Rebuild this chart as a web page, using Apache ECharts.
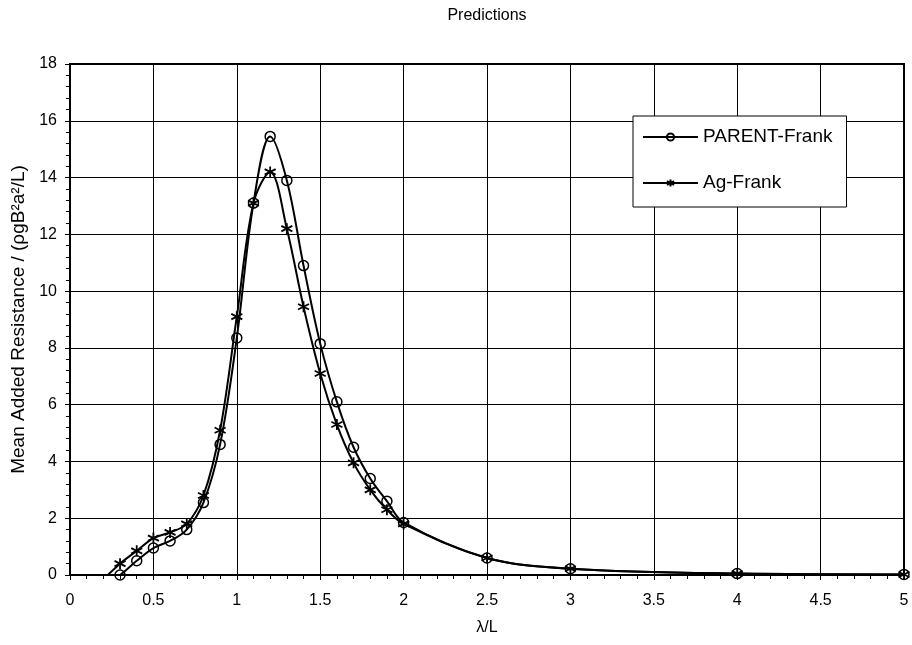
<!DOCTYPE html>
<html><head><meta charset="utf-8">
<script src="https://cdn.jsdelivr.net/npm/echarts@6/dist/echarts.min.js"></script>
<style>html,body{margin:0;padding:0;background:#fff}#c{width:912px;height:645px}</style>
</head><body><div id="c"></div>
<script>
var xValues = [0.2, 0.3, 0.4, 0.5, 0.6, 0.7, 0.8, 0.9, 1.0, 1.1, 1.2, 1.3, 1.4, 1.5, 1.6, 1.7, 1.8, 1.9, 2.0, 2.5, 3, 4, 5];
var parentFrank = [-0.4, 0.0, 0.5, 0.95, 1.2, 1.6, 2.55, 4.6, 8.35, 13.1, 15.45, 13.9, 10.9, 8.15, 6.1, 4.5, 3.4, 2.6, 1.85, 0.6, 0.22, 0.05, 0.02];
var agFrank = [-0.15, 0.4, 0.85, 1.3, 1.5, 1.8, 2.8, 5.1, 9.1, 13.1, 14.2, 12.2, 9.45, 7.1, 5.3, 3.95, 3.0, 2.3, 1.8, 0.6, 0.22, 0.05, 0.02];
var seriesNames = ['PARENT-Frank', 'Ag-Frank'];
var titleText = 'Predictions';

function pairs(ys){ return xValues.map(function(x,i){ return [x, ys[i]]; }); }
var FONT = 'Liberation Sans, Arial, sans-serif';
var star = 'path://M5,0 L5,10 M0.7,2.5 L9.3,7.5 M0.7,7.5 L9.3,2.5';

var chart = echarts.init(document.getElementById('c'), null, {renderer:'canvas'});
chart.setOption({
  animation: false,
  backgroundColor: '#fff',
  graphic: [{ type: 'text', x: 487, y: 16,
    style: { text: titleText, textAlign: 'center', textVerticalAlign: 'middle',
      font: '16px ' + FONT, fill: '#000' } }],
  grid: { left: 70, right: 8, top: 64, bottom: 70, show: true, borderColor: '#000', borderWidth: 2 },
  legend: {
    orient: 'vertical', left: 633, top: 116,
    padding: [11, 14, 14, 9], itemGap: 26, itemWidth: 55, itemHeight: 9,
    borderColor: '#000', borderWidth: 1, backgroundColor: '#fff',
    textStyle: { fontFamily: FONT, fontSize: 19, lineHeight: 20, color: '#000' },
    data: seriesNames
  },
  xAxis: {
    type: 'value', min: 0, max: 5, interval: 0.5,
    name: 'λ/L', nameLocation: 'middle', nameGap: 45,
    nameTextStyle: { fontFamily: FONT, fontSize: 16, color: '#000' },
    axisLine: { onZero: false, lineStyle: { color: '#000', width: 2 } },
    axisTick: { show: true, length: 5, lineStyle: { color: '#000' } },
    minorTick: { show: true, splitNumber: 5, length: 4, lineStyle: { color: '#000' } },
    axisLabel: { fontFamily: FONT, fontSize: 16, color: '#000', margin: 18 },
    splitLine: { show: true, lineStyle: { color: '#000', width: 1 } }
  },
  yAxis: {
    type: 'value', min: 0, max: 18, interval: 2,
    name: 'Mean Added Resistance / (ρgB²a²/L)', nameLocation: 'middle', nameGap: 32,
    nameTextStyle: { fontFamily: FONT, fontSize: 19, color: '#000' },
    axisLine: { show: true, lineStyle: { color: '#000', width: 2 } },
    axisTick: { show: true, length: 5, lineStyle: { color: '#000' } },
    minorTick: { show: true, splitNumber: 5, length: 4, lineStyle: { color: '#000' } },
    axisLabel: { fontFamily: FONT, fontSize: 16, color: '#000', margin: 13 },
    splitLine: { show: true, lineStyle: { color: '#000', width: 1 } }
  },
  series: [
    { name: seriesNames[0], type: 'line', data: pairs(parentFrank), smooth: 0.35, clip: true,
      symbol: 'circle', symbolSize: 10, showAllSymbol: true,
      lineStyle: { color: '#000', width: 2 },
      itemStyle: { color: 'rgba(0,0,0,0)', borderColor: '#000', borderWidth: 1.5 } },
    { name: seriesNames[1], type: 'line', data: pairs(agFrank), smooth: 0.35, clip: true,
      symbol: star, symbolSize: 11, showAllSymbol: true,
      lineStyle: { color: '#000', width: 2 },
      itemStyle: { color: 'rgba(0,0,0,0)', borderColor: '#000', borderWidth: 1.8 } }
  ]
});
</script></body></html>
